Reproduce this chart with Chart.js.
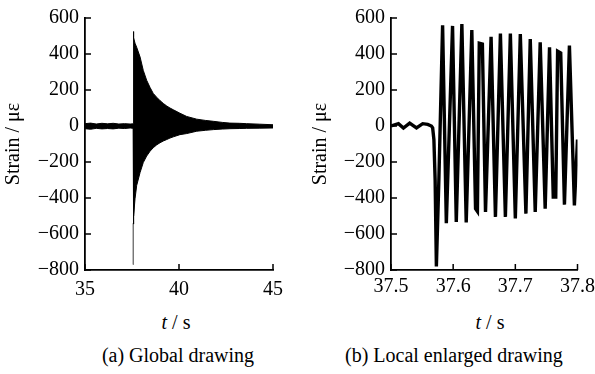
<!DOCTYPE html>
<html>
<head>
<meta charset="utf-8">
<script src="https://cdn.jsdelivr.net/npm/chart.js@4.4.1/dist/chart.umd.min.js"></script>
<style>
  body { margin: 0; background: #fff; width: 595px; height: 374px; overflow: hidden; position: relative; font-family: "Liberation Serif", "Times New Roman", serif; }
  canvas { position: absolute; top: 0; }
  .lbl { position: absolute; font-size: 20px; color: #000; white-space: nowrap; line-height: 1; }
</style>
</head>
<body>
<canvas id="grafico-global" width="300" height="300" style="left:0"></canvas>
<canvas id="grafico-local" width="300" height="300" style="left:300px"></canvas>
<div class="lbl" style="left:176px; top:312px; transform:translateX(-50%)"><i>t</i> / s</div>
<div class="lbl" style="left:490px; top:312px; transform:translateX(-50%)"><i>t</i> / s</div>
<div class="lbl" style="left:178px; top:345px; transform:translateX(-50%)">(a) Global drawing</div>
<div class="lbl" style="left:345px; top:345px">(b) Local enlarged drawing</div>
<script>
// (a) envelope of the dense signal
const tempoGlobal = [35.0, 35.3, 35.6, 35.9, 36.2, 36.5, 36.8, 37.1, 37.4, 37.56, 37.57, 37.6, 37.66, 37.75, 37.93, 38.1, 38.28, 38.46, 38.63, 38.81, 38.99, 39.17, 39.35, 39.52, 39.7, 40.05, 40.41, 40.94, 41.4, 41.83, 42.3, 42.71, 43.2, 43.6, 44.3, 45.0];
const envSuperior = [13, 16, 11, 15, 12, 15, 11, 13, 11, 12, 525, 490, 460, 437, 383, 309, 254, 214, 181, 160, 141, 125, 111, 100, 90, 71, 53, 38, 31, 26, 20, 16, 15, 13, 10, 7];
const envInferior = [-15, -18, -13, -16, -14, -16, -12, -14, -11, -13, -545, -500, -405, -330, -258, -203, -167, -140, -121, -105, -93, -83, -75, -67, -60, -48, -42, -29, -24, -20, -17, -15, -14, -13, -12, -11];
// pico inicial (linha fina cinza)
const tempoPico = [37.57, 37.57];
const valorPico = [-540, -770];

// (b) trecho ampliado
const tempoLocal = [37.500, 37.512, 37.520, 37.530, 37.541, 37.551, 37.559, 37.565, 37.567, 37.569, 37.571, 37.573, 37.577, 37.583, 37.589, 37.599, 37.605, 37.614, 37.621, 37.630, 37.636, 37.639, 37.642, 37.647, 37.652, 37.661, 37.668, 37.676, 37.684, 37.692, 37.700, 37.708, 37.717, 37.724, 37.732, 37.740, 37.748, 37.755, 37.761, 37.765, 37.768, 37.773, 37.779, 37.787, 37.795, 37.800];
const strainLocal = [0, 13, -11, 16, -11, 13, 9, 0, -10, -75, -300, -780, -300, 560, -540, 556, -533, 566, -536, 533, -460, -475, 460, 455, -478, 496, -505, 514, -505, 514, -514, 511, -487, 483, -478, 465, -459, 437, -395, -395, 415, 405, -437, 447, -441, -75];

const yTicks = [600, 400, 200, 0, -200, -400, -600, -800];

const fonte = { family: "'Liberation Serif', 'Times New Roman', serif", size: 20 };

function pares(xs, ys) {
  return xs.map((x, i) => ({ x: x, y: ys[i] }));
}

// ticks voltados para dentro
const ticksInternos = {
  id: "ticksInternos",
  afterDraw(chart) {
    const ctx = chart.ctx;
    const sx = chart.scales.x;
    const sy = chart.scales.y;
    ctx.save();
    ctx.strokeStyle = "#000";
    ctx.lineWidth = 1.5;
    ctx.beginPath();
    sx.ticks.forEach((t) => {
      const px = sx.getPixelForValue(t.value);
      ctx.moveTo(px, sy.bottom);
      ctx.lineTo(px, sy.bottom - 6);
    });
    sy.ticks.forEach((t) => {
      const py = sy.getPixelForValue(t.value);
      ctx.moveTo(sx.left, py);
      ctx.lineTo(sx.left + 6, py);
    });
    ctx.stroke();
    ctx.restore();
  },
};

function opcoes(xMin, xMax, passo, larguraY, padTitulo, padDir, padX, casas) {
  return {
    responsive: false,
    animation: false,
    layout: { padding: { top: 15, right: padDir, left: 0, bottom: 0 } },
    plugins: { legend: { display: false }, tooltip: { enabled: false } },
    scales: {
      x: {
        type: "linear",
        min: xMin,
        max: xMax,
        grid: { drawOnChartArea: false, drawTicks: false },
        border: { display: true, color: "#000", width: 1.8 },
        ticks: {
          stepSize: passo,
          color: "#000",
          font: fonte,
          padding: padX,
          maxRotation: 0,
          callback: (v) => v.toFixed(casas),
        },
        afterFit: (s) => { s.height = 30; },
      },
      y: {
        min: -800,
        max: 600,
        grid: { drawOnChartArea: false, drawTicks: false },
        border: { display: true, color: "#000", width: 1.8 },
        ticks: {
          stepSize: 200,
          color: "#000",
          font: fonte,
          padding: 6,
          callback: (v) => (v < 0 ? "\u2212" + Math.abs(v) : String(v)),
        },
        title: {
          display: true,
          text: "Strain / \u03bc\u03b5",
          color: "#000",
          font: fonte,
          padding: { top: padTitulo, bottom: 0 },
        },
        afterFit: (s) => { s.width = larguraY; },
      },
    },
  };
}

function gerarGraficoGlobal() {
  const ctx = document.getElementById("grafico-global").getContext("2d");
  new Chart(ctx, {
    type: "line",
    data: {
      datasets: [
        {
          data: pares(tempoGlobal, envSuperior),
          borderColor: "#000",
          backgroundColor: "#000",
          borderWidth: 1,
          pointRadius: 0,
          fill: "+1",
        },
        {
          data: pares(tempoGlobal, envInferior),
          borderColor: "#000",
          borderWidth: 1,
          pointRadius: 0,
          fill: false,
        },
        {
          data: pares(tempoPico, valorPico),
          borderColor: "#777",
          borderWidth: 1,
          pointRadius: 0,
          fill: false,
        },
      ],
    },
    options: opcoes(35, 45, 5, 85, 2, 27, 8, 0),
    plugins: [ticksInternos],
  });
}

function gerarGraficoLocal() {
  const ctx = document.getElementById("grafico-local").getContext("2d");
  new Chart(ctx, {
    type: "line",
    data: {
      datasets: [
        {
          data: pares(tempoLocal, strainLocal),
          borderColor: "#000",
          borderWidth: 3.4,
          pointRadius: 0,
          fill: false,
          tension: 0,
        },
      ],
    },
    options: opcoes(37.5, 37.8, 0.1, 91, 9, 21, 5, 1),
    plugins: [ticksInternos],
  });
}

gerarGraficoGlobal();
gerarGraficoLocal();
</script>
</body>
</html>
